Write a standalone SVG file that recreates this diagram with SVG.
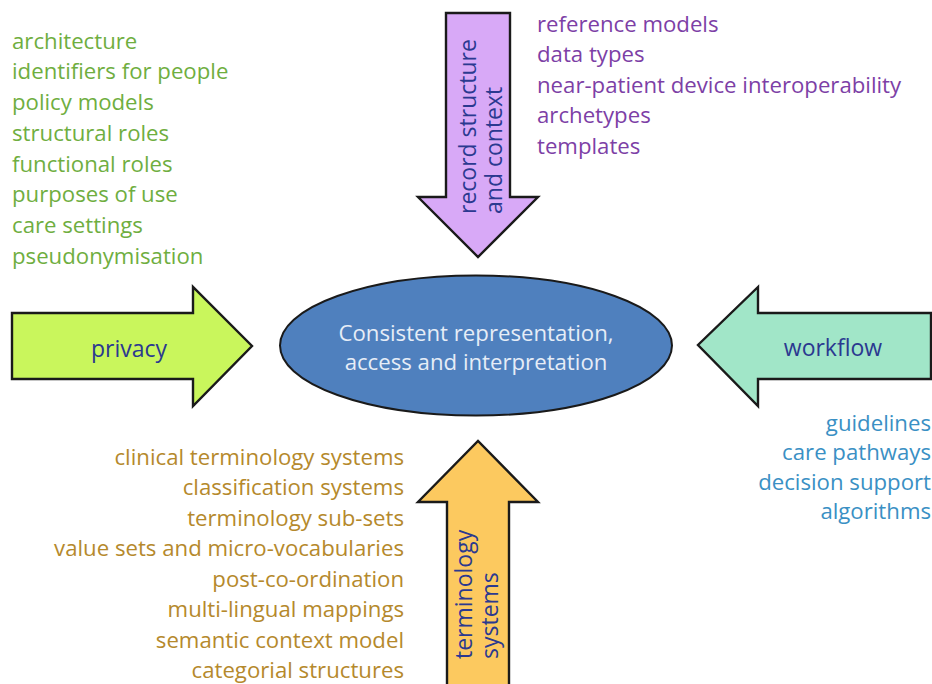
<svg xmlns="http://www.w3.org/2000/svg" width="932" height="684" viewBox="0 0 932 684">
<style>
text{font-family:"Open Sans",Lato,"Liberation Sans",sans-serif;font-size:22.2px}
.arrow{stroke:#1a1a1a;stroke-width:2.4;stroke-linejoin:miter}
.lbl{fill:#2b3990;font-size:23px}
.green{fill:#6fae3f}
.purple{fill:#7d3fa6}
.blue{fill:#3a90c4}
.brown{fill:#b5892c}
.end{text-anchor:end}
</style>
<rect width="932" height="684" fill="#ffffff"/>
<g id="connectors">
<g id="privacy-arrow">
<polygon class="arrow" fill="#c9f65c" points="12,313 193,313 193,287 252,346 193,406 193,379 12,379"/>
<text class="lbl" x="129" y="357" text-anchor="middle">privacy</text>
</g>
<g id="workflow-arrow">
<polygon class="arrow" fill="#a1e6c8" points="931,313 758,313 758,287 698,345 758,406 758,379 931,379"/>
<text class="lbl" x="833" y="356" text-anchor="middle">workflow</text>
</g>
<g id="record-arrow">
<polygon class="arrow" fill="#d8a9f7" points="446,13 510,13 510,197 538,197 478,257 418,197 446,197"/>
<text class="lbl" transform="translate(476,214) rotate(-90)">record structure</text>
<text class="lbl" transform="translate(502,214) rotate(-90)">and context</text>
</g>
<g id="terminology-arrow">
<polygon class="arrow" fill="#fcc95f" points="447,690 447,502 418,502 478,441 538,502 509,502 509,690"/>
<text class="lbl" transform="translate(472,659) rotate(-90)">terminology</text>
<text class="lbl" transform="translate(498,659) rotate(-90)">systems</text>
</g>
</g>
<g id="center">
<ellipse cx="476" cy="345.5" rx="196" ry="70" fill="#4f80be" stroke="#1a1a1a" stroke-width="2"/>
<text x="476" y="341" text-anchor="middle" fill="#e6edf7">Consistent representation,</text>
<text x="476" y="370" text-anchor="middle" fill="#e6edf7">access and interpretation</text>
</g>
<g id="privacy-list" class="green">
<text x="12" y="49">architecture</text>
<text x="12" y="79">identifiers for people</text>
<text x="12" y="110">policy models</text>
<text x="12" y="141">structural roles</text>
<text x="12" y="172">functional roles</text>
<text x="12" y="202">purposes of use</text>
<text x="12" y="233">care settings</text>
<text x="12" y="264">pseudonymisation</text>
</g>
<g id="record-list" class="purple">
<text x="537" y="32">reference models</text>
<text x="537" y="62">data types</text>
<text x="537" y="93">near-patient device interoperability</text>
<text x="537" y="123">archetypes</text>
<text x="537" y="154">templates</text>
</g>
<g id="workflow-list" class="blue">
<text class="end" x="931" y="431">guidelines</text>
<text class="end" x="931" y="460">care pathways</text>
<text class="end" x="931" y="490">decision support</text>
<text class="end" x="931" y="519">algorithms</text>
</g>
<g id="terminology-list" class="brown">
<text class="end" x="404" y="465">clinical terminology systems</text>
<text class="end" x="404" y="495">classification systems</text>
<text class="end" x="404" y="526">terminology sub-sets</text>
<text class="end" x="404" y="556">value sets and micro-vocabularies</text>
<text class="end" x="404" y="587">post-co-ordination</text>
<text class="end" x="404" y="617">multi-lingual mappings</text>
<text class="end" x="404" y="648">semantic context model</text>
<text class="end" x="404" y="678">categorial structures</text>
</g>
</svg>
